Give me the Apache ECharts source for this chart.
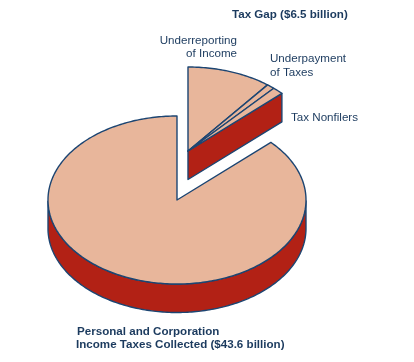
<!DOCTYPE html>
<html><head><meta charset="utf-8">
<script src="https://cdn.jsdelivr.net/npm/echarts@6/dist/echarts.min.js"></script>
<style>html,body{margin:0;padding:0;background:#fff}#c{width:414px;height:362px}</style>
</head><body><div id="c"></div>
<script>
// ---- data ----
const sliceNames = ['Personal and Corporation Income Taxes Collected', 'Underreporting of Income', 'Underpayment of Taxes', 'Tax Nonfilers'];
const sliceValues = [43.6, 5.3, 0.5, 0.7];
const sliceExploded = [false, true, true, true];
const titleText = 'Tax Gap ($6.5 billion)';
const mainLabelLines = ['Personal and Corporation', 'Income Taxes Collected ($43.6 billion)'];
const gapLabelLines = [['Underreporting', 'of Income'], ['Underpayment', 'of Taxes'], ['Tax Nonfilers']];

// ---- layout / style ----
const FILL = '#E8B69B', SIDE = '#B22115', EDGE = '#1C4572', TXT = '#1B3A5E';
const RX = 129, RY = 84, DEPTH = 28.5;
const MAIN_C = [177, 200], GAP_C = [188, 151];

const total = sliceValues.reduce((a, b) => a + b, 0);
// exploded slices run clockwise from 12 o'clock, main slice takes the rest
const angles = [];
let t = 90;
sliceValues.forEach((v, i) => { if (sliceExploded[i]) { const s = t; t -= v / total * 360; angles[i] = [s, t]; } });
const gapEnd = t;
sliceValues.forEach((v, i) => { if (!sliceExploded[i]) { angles[i] = [gapEnd, gapEnd - v / total * 360]; } });
const lastGap = sliceExploded.lastIndexOf(true);

const rad = d => d * Math.PI / 180;
function pt(c, deg, dz) { return [c[0] + RX * Math.cos(rad(deg)), c[1] - RY * Math.sin(rad(deg)) + (dz || 0)]; }
function arc(c, from, to, dz) {
  const pts = []; const n = Math.max(2, Math.ceil(Math.abs(from - to)));
  for (let k = 0; k <= n; k++) pts.push(pt(c, from + (to - from) * k / n, dz));
  return pts;
}
function walls(c, s, e) {
  const out = []; let run = [];
  const n = Math.ceil(s - e);
  for (let k = 0; k <= n; k++) {
    const d = s - (s - e) * k / n;
    if (Math.sin(rad(d)) <= 1e-9) run.push(d); else { if (run.length > 1) out.push(run); run = []; }
  }
  if (run.length > 1) out.push(run);
  return out.map(r => r.map(d => pt(c, d, 0)).concat(r.slice().reverse().map(d => pt(c, d, DEPTH))));
}
const style = (fill) => ({ fill: fill, stroke: EDGE, lineWidth: 1.4, lineJoin: 'round' });

function renderItem(params, api) {
  const i = params.dataIndex;
  const [s, e] = angles[i];
  const c = sliceExploded[i] ? GAP_C : MAIN_C;
  const children = [];
  walls(c, s, e).forEach(p => children.push({ type: 'polygon', shape: { points: p }, style: style(SIDE) }));
  const isGroupEnd = sliceExploded[i] ? i === lastGap : true;
  if (isGroupEnd && Math.sin(rad(e - 90)) < -1e-6) {
    const a = pt(c, e, 0);
    children.push({ type: 'polygon', shape: { points: [c, a, [a[0], a[1] + DEPTH], [c[0], c[1] + DEPTH]] }, style: style(SIDE) });
  }
  if (!sliceExploded[i] && Math.sin(rad(s + 90)) < -1e-6) {
    const a = pt(c, s, 0);
    children.push({ type: 'polygon', shape: { points: [c, a, [a[0], a[1] + DEPTH], [c[0], c[1] + DEPTH]] }, style: style(SIDE) });
  }
  children.push({ type: 'polygon', shape: { points: [c].concat(arc(c, s, e, 0)) }, style: style(FILL) });
  return { type: 'group', children: children };
}

const font = (w) => ({ fontFamily: '"Liberation Sans", Arial, sans-serif', fontSize: 11.6, fontWeight: w, fill: TXT });
const graphics = [
  { type: 'text', left: 232, top: 9, style: Object.assign({ text: titleText }, font('bold')) },
  { type: 'text', x: 237, y: 34, style: Object.assign({ text: gapLabelLines[0].join('\n'), align: 'right', lineHeight: 13.5 }, font('normal')) },
  { type: 'text', x: 270, y: 52, style: Object.assign({ text: gapLabelLines[1].join('\n'), align: 'left', lineHeight: 14 }, font('normal')) },
  { type: 'text', x: 291, y: 112, style: Object.assign({ text: gapLabelLines[2].join('\n'), align: 'left' }, font('normal')) },
  { type: 'text', x: 77, y: 326, style: Object.assign({ text: mainLabelLines[0], align: 'left' }, font('bold')) },
  { type: 'text', x: 76, y: 339, style: Object.assign({ text: mainLabelLines[1], align: 'left' }, font('bold')) }
];

const chart = echarts.init(document.getElementById('c'), null, { renderer: 'canvas' });
chart.setOption({
  animation: false,
  series: [{
    type: 'custom', coordinateSystem: 'none', renderItem: renderItem,
    data: sliceValues.map((v, i) => ({ name: sliceNames[i], value: v }))
  }],
  graphic: graphics
});
</script></body></html>
